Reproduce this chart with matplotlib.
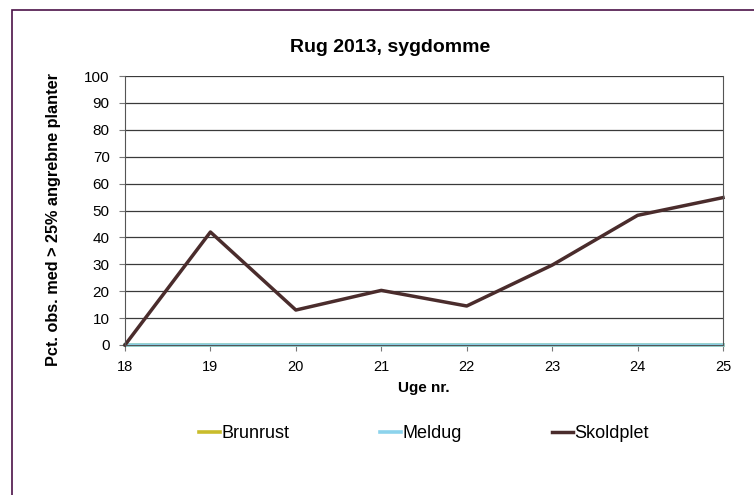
import matplotlib.pyplot as plt
from matplotlib.patches import Rectangle

plt.rcParams['font.family'] = ['Liberation Sans', 'DejaVu Sans']

uger = [18, 19, 20, 21, 22, 23, 24, 25]
brunrust = [0, 0, 0, 0, 0, 0, 0, 0]
meldug = [0, 0, 0, 0, 0, 0, 0, 0]
skoldplet = [0, 42, 13, 20.3, 14.5, 29.7, 48.2, 54.8]

fig = plt.figure(figsize=(7.54, 4.95), dpi=100)
# chart area frame (cropped on the right and bottom)
fig.patches.append(Rectangle((12/754, -0.1), 1.2, 1 - 10/495 + 0.1, transform=fig.transFigure,
                             fill=False, edgecolor='#4B1248', linewidth=1.2))

ax = fig.add_axes([125/754, 1 - 345/495, 598/754, 269/495])

ax.plot(uger, brunrust, color='#C9BC2B', lw=2.6, label='Brunrust', clip_on=False)
ax.plot(uger, meldug, color='#8CD3EC', lw=2.6, label='Meldug', clip_on=False)
ax.plot(uger, skoldplet, color='#4A2C2C', lw=2.5, label='Skoldplet', clip_on=False)

ax.set_xlim(18, 25)
ax.set_ylim(0, 100)
ax.set_yticks(range(0, 101, 10))
ax.set_xticks(uger)
ax.yaxis.grid(True, color='#3a3a3a', lw=0.9)
ax.set_axisbelow(True)
ax.spines['top'].set_visible(False)
for s in ['left', 'right', 'bottom']:
    ax.spines[s].set_color('#555555')
ax.tick_params(axis='x', labelsize=10.5, length=4, color='#777777', width=0.8, pad=6.5)
ax.tick_params(axis='y', labelsize=11, length=4, color='#777777', width=0.8, pad=7)

fig.text(390/754, 1 - 52/495, 'Rug 2013, sygdomme', fontsize=14, fontweight='bold',
         ha='center', va='baseline')
ax.set_xlabel('Uge nr.', fontsize=11, fontweight='bold')
ax.xaxis.label.set_va('center')
ax.xaxis.set_label_coords(0.5, -43/269)
ax.set_ylabel('Pct. obs. med > 25% angrebne planter', fontsize=11.7, fontweight='bold')
ax.yaxis.label.set_va('center')
ax.yaxis.set_label_coords(-71/598, 126/269)

fig.legend(loc='center', bbox_to_anchor=(424/754, 1 - 434/495), ncol=3, frameon=False,
           fontsize=13, handlelength=1.15, handletextpad=0.1, columnspacing=5.0)

fig.savefig('out.png', dpi=100)
